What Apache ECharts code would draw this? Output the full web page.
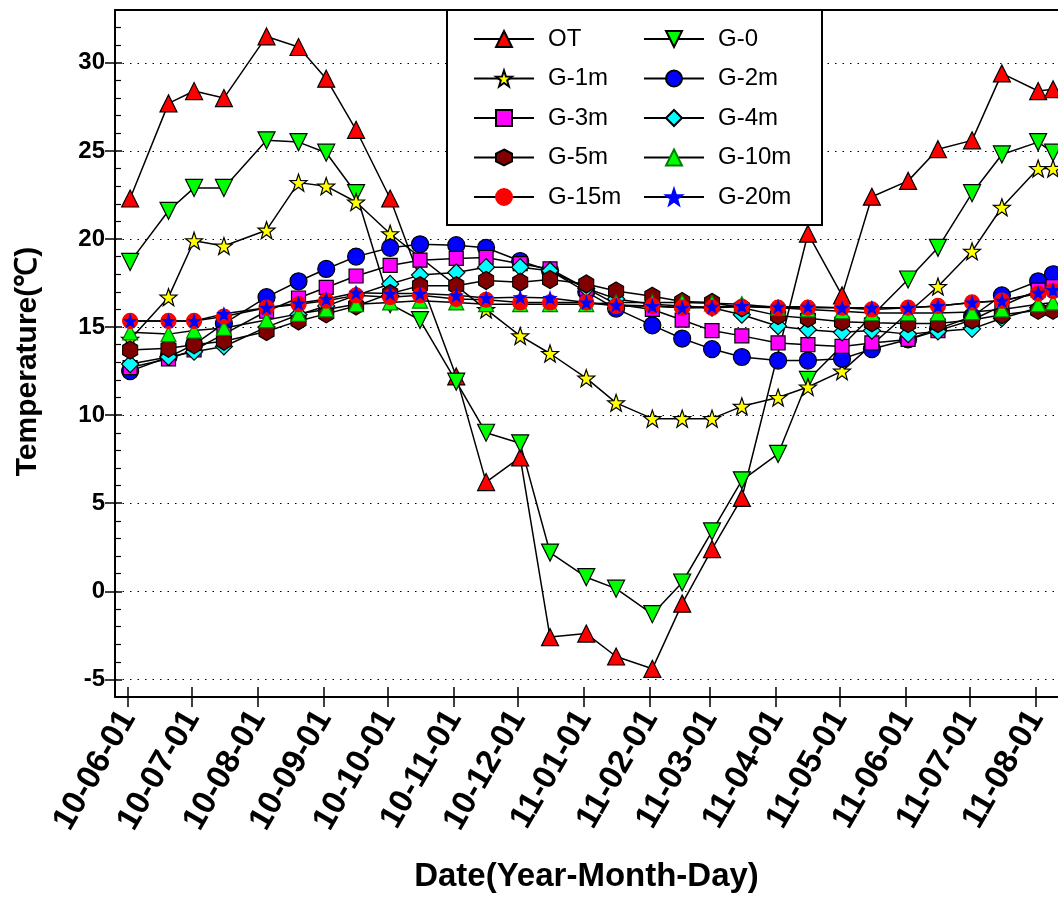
<!DOCTYPE html>
<html>
<head>
<meta charset="utf-8">
<script src="https://cdn.jsdelivr.net/npm/echarts@6/dist/echarts.min.js"></script>
<style>
  html, body { margin: 0; padding: 0; background: #fff; }
  #chart { width: 1058px; height: 898px; }
</style>
</head>
<body>
<div id="chart"></div>
<script>
// Sampling dates (twice a month)
const dates = ['2010-06-02','2010-06-20','2010-07-02','2010-07-16','2010-08-05','2010-08-20','2010-09-02','2010-09-16','2010-10-02','2010-10-16','2010-11-02','2010-11-16','2010-12-02','2010-12-16','2011-01-02','2011-01-16','2011-02-02','2011-02-16','2011-03-02','2011-03-16','2011-04-02','2011-04-16','2011-05-02','2011-05-16','2011-06-02','2011-06-16','2011-07-02','2011-07-16','2011-08-02','2011-08-09'];

// Month tick labels (yy-mm-dd)
const monthLabels = ['10-06-01','10-07-01','10-08-01','10-09-01','10-10-01','10-11-01','10-12-01','11-01-01','11-02-01','11-03-01','11-04-01','11-05-01','11-06-01','11-07-01','11-08-01'];

// Temperature tick labels
const tempTicks = [-5, 0, 5, 10, 15, 20, 25, 30];

// Temperatures (°C); null = not recorded on that date
const OT   = [22.3, 27.7, 28.4, 28.0, 31.5, 30.9, 29.1, 26.2, 22.3, null, 12.2, 6.2, 7.6, -2.6, -2.4, -3.7, -4.4, -0.7, 2.4, 5.3, null, 20.3, 16.8, 22.4, 23.3, 25.1, 25.6, 29.4, 28.4, 28.5];
const G0   = [18.7, 21.6, 22.9, 22.9, 25.6, 25.5, 24.9, 22.6, 16.3, 15.4, 11.9, 9.0, 8.4, 2.2, 0.8, 0.15, -1.3, 0.5, 3.4, 6.3, 7.8, 12.0, null, null, 17.7, 19.5, 22.6, 24.8, 25.5, 24.9];
const G1m  = [14.3, 16.7, 19.9, 19.6, 20.5, 23.2, 23.0, 22.1, 20.3, null, null, 16.0, 14.5, 13.5, 12.1, 10.7, 9.8, 9.8, 9.8, 10.5, 11.0, 11.6, 12.5, null, null, 17.3, 19.3, 21.8, 24.0, 24.0];
const G2m  = [12.5, 13.3, 14.0, 15.2, 16.7, 17.6, 18.3, 19.0, 19.5, 19.7, 19.65, 19.5, 18.75, 18.2, 17.0, 16.05, 15.1, 14.35, 13.75, 13.3, 13.1, 13.1, 13.2, 13.75, 14.3, 14.9, 15.6, 16.8, 17.6, 18.0];
const G3m  = [12.7, 13.2, 13.7, 14.6, 15.9, 16.65, 17.25, 17.9, 18.5, 18.8, 18.9, 18.95, 18.6, 18.3, 17.2, 16.3, 16.0, 15.4, 14.8, 14.5, 14.1, 14.0, 13.9, 14.1, 14.3, 14.8, 15.4, 16.2, 17.1, 17.3];
const G4m  = [12.9, 13.3, 13.6, 13.9, 15.0, 15.7, 16.2, 16.8, 17.45, 17.95, 18.1, 18.4, 18.4, 18.2, 17.2, 16.6, 16.3, 16.2, 16.1, 15.7, 15.05, 14.85, 14.7, 14.8, 14.6, 14.75, 14.9, 15.5, 16.1, 16.1];
const G5m  = [13.7, 13.8, 14.0, 14.2, 14.75, 15.35, 15.75, 16.2, 16.9, 17.35, 17.35, 17.65, 17.55, 17.7, 17.45, 17.05, 16.75, 16.45, 16.4, 16.1, 15.65, 15.5, 15.3, 15.25, 15.2, 15.2, 15.4, 15.7, 15.95, 15.95];
const G10m = [14.7, 14.6, 14.8, 14.95, 15.4, 15.75, 16.0, 16.3, 16.4, 16.5, 16.4, 16.3, 16.3, 16.3, 16.3, 16.4, 16.4, 16.4, 16.35, 16.3, 16.1, 16.0, 15.9, 15.8, 15.8, 15.8, 15.85, 16.0, 16.3, 16.4];
const G15m = [15.35, 15.35, 15.35, 15.6, 16.1, 16.3, 16.5, 16.8, 16.7, 16.8, 16.6, 16.55, 16.4, 16.4, 16.4, 16.2, 16.2, 16.1, 16.1, 16.15, 16.1, 16.1, 16.1, 16.0, 16.1, 16.2, 16.4, 16.5, 16.9, 17.05];
const G20m = [15.35, 15.35, 15.35, 15.75, 16.1, 16.35, 16.6, 16.95, 16.9, 16.9, 16.8, 16.65, 16.7, 16.65, 16.4, 16.25, 16.2, 16.1, 16.15, 16.2, 16.15, 16.15, 16.1, 16.1, 16.1, 16.2, 16.4, 16.5, 16.95, 17.1];

// ---- helpers ----
const ORIGIN = Date.UTC(2010, 5, 1);
function dayOf(y, m, d) { return (Date.UTC(y, m - 1, d) - ORIGIN) / 86400000; }
function dayFromIso(s) { const p = s.split('-').map(Number); return dayOf(p[0], p[1], p[2]); }
function dayFromShort(s) { const p = s.split('-').map(Number); return dayOf(2000 + p[0], p[1], p[2]); }

const xDays = dates.map(dayFromIso);
const tickDays = monthLabels.map(dayFromShort);
const labelByDay = {};
tickDays.forEach((d, i) => { labelByDay[d] = monthLabels[i]; });

const STAR = 'path://M0,-10L2.35,-3.24L9.51,-3.09L3.8,1.24L5.88,8.09L0,4L-5.88,8.09L-3.8,1.24L-9.51,-3.09L-2.35,-3.24Z';
const HEX = 'path://M0,-10L8.66,-5L8.66,5L0,10L-8.66,5L-8.66,-5Z';

const FONT = "'Liberation Sans', Arial, sans-serif";

const seriesDefs = [
  { name: 'OT',    data: OT,   symbol: 'triangle', size: 17, fill: '#ff0000', border: '#000' },
  { name: 'G-0',   data: G0,   symbol: 'triangle', size: 17, fill: '#00ff00', border: '#000', rotate: 180 },
  { name: 'G-1m',  data: G1m,  symbol: STAR,       size: 17, fill: '#ffff00', border: '#000' },
  { name: 'G-2m',  data: G2m,  symbol: 'circle',   size: 17, fill: '#0000ff', border: '#000' },
  { name: 'G-3m',  data: G3m,  symbol: 'rect',     size: 14, fill: '#ff00ff', border: '#000' },
  { name: 'G-4m',  data: G4m,  symbol: 'diamond',  size: [17, 17], fill: '#00ffff', border: '#000' },
  { name: 'G-5m',  data: G5m,  symbol: HEX,        size: [15, 18], fill: '#800000', border: '#000' },
  { name: 'G-10m', data: G10m, symbol: 'triangle', size: 15, fill: '#00ff00', border: '#008000' },
  { name: 'G-15m', data: G15m, symbol: 'circle',   size: 15, fill: '#ff0000', border: '#ff0000' },
  { name: 'G-20m', data: G20m, symbol: STAR,       size: 12, fill: '#0000ff', border: '#0000ff' }
];

const series = seriesDefs.map(s => ({
  name: s.name,
  type: 'line',
  connectNulls: true,
  symbol: s.symbol,
  symbolSize: s.size,
  symbolRotate: s.rotate || 0,
  showAllSymbol: true,
  lineStyle: { color: '#000', width: 1.5 },
  itemStyle: { color: s.fill, borderColor: s.border, borderWidth: 1.2 },
  emphasis: { disabled: true },
  data: s.data.map((v, i) => [xDays[i], v])
}));

// plot spans x = 115..1058 px; 10-06-01 sits at 128 px, 11-08-01 at 1036 px
const PX_PER_DAY = (1036 - 128) / 426;
const X_MIN = (115 - 128) / PX_PER_DAY;
const X_MAX = (1058 - 128) / PX_PER_DAY;
const Y_MIN = -6, Y_MAX = 33;

const legendBase = {
  orient: 'vertical',
  top: 22,
  itemWidth: 60,
  itemHeight: 20,
  itemGap: 15.5,
  selectedMode: false,
  textStyle: { fontFamily: FONT, fontSize: 24, color: '#000', padding: [0, 0, 0, 9] },
  z: 10
};

const option = {
  animation: false,
  backgroundColor: '#fff',
  grid: { left: 115, top: 10, right: 0, bottom: 201, outerBoundsMode: 'none' },
  legend: [
    Object.assign({}, legendBase, { left: 468, data: ['OT', 'G-1m', 'G-3m', 'G-5m', 'G-15m'] }),
    Object.assign({}, legendBase, { left: 638, data: ['G-0', 'G-2m', 'G-4m', 'G-10m', 'G-20m'] })
  ],
  graphic: [{
    type: 'rect', z: 5,
    shape: { x: 447, y: 10, width: 375, height: 215 },
    style: { fill: '#fff', stroke: '#000', lineWidth: 2 }
  }],
  xAxis: [{
    type: 'value', position: 'bottom', min: X_MIN, max: X_MAX,
    name: 'Date(Year-Month-Day)', nameLocation: 'middle', nameGap: 163,
    nameTextStyle: { fontFamily: FONT, fontSize: 33, fontWeight: 'bold', color: '#000' },
    axisLine: { onZero: false, lineStyle: { color: '#000', width: 2 } },
    axisTick: { customValues: tickDays, length: 10, lineStyle: { color: '#000', width: 1.5 } },
    axisLabel: {
      customValues: tickDays, rotate: 60, margin: 16,
      fontFamily: FONT, fontSize: 33, fontWeight: 'bold', color: '#000',
      formatter: v => labelByDay[v] || ''
    },
    splitLine: { show: false }
  }, {
    type: 'value', position: 'bottom', min: X_MIN, max: X_MAX,
    axisLine: { show: false, onZero: false },
    axisTick: { customValues: tickDays, inside: true, length: 10, lineStyle: { color: '#000', width: 1.5 } },
    axisLabel: { show: false },
    splitLine: { show: false }
  }, {
    // top frame line
    type: 'value', position: 'top', min: X_MIN, max: X_MAX,
    axisLine: { show: true, onZero: false, lineStyle: { color: '#000', width: 2 } },
    axisTick: { show: false },
    axisLabel: { show: false },
    splitLine: { show: false }
  }],
  yAxis: [{
    type: 'value', position: 'left', min: Y_MIN, max: Y_MAX, splitNumber: 8,
    name: 'Temperature(℃)', nameLocation: 'middle', nameGap: 72,
    nameTextStyle: { fontFamily: FONT, fontSize: 30, fontWeight: 'bold', color: '#000', padding: [0, 16, 0, 0] },
    axisLine: { onZero: false, lineStyle: { color: '#000', width: 2 } },
    axisTick: { length: 10, lineStyle: { color: '#000', width: 1.5 } },
    axisLabel: {
      showMinLabel: false, showMaxLabel: false, margin: 10,
      fontFamily: FONT, fontSize: 24, fontWeight: 'bold', color: '#000',
      formatter: v => (tempTicks.indexOf(v) >= 0 ? String(v) : '')
    },
    splitLine: { show: true, lineStyle: { color: '#000', width: 1.2, type: [1.5, 6] } }
  }, {
    type: 'value', position: 'left', min: Y_MIN, max: Y_MAX, splitNumber: 8,
    axisLine: { show: false, onZero: false },
    axisTick: { inside: true, length: 7, lineStyle: { color: '#000', width: 1.5 } },
    minorTick: { show: true, splitNumber: 5, length: 6, lineStyle: { color: '#000', width: 1.2 } },
    axisLabel: { show: false },
    splitLine: { show: false }
  }],
  series: series
};

const chart = echarts.init(document.getElementById('chart'), null, { renderer: 'canvas' });
chart.setOption(option);
</script>
</body>
</html>
